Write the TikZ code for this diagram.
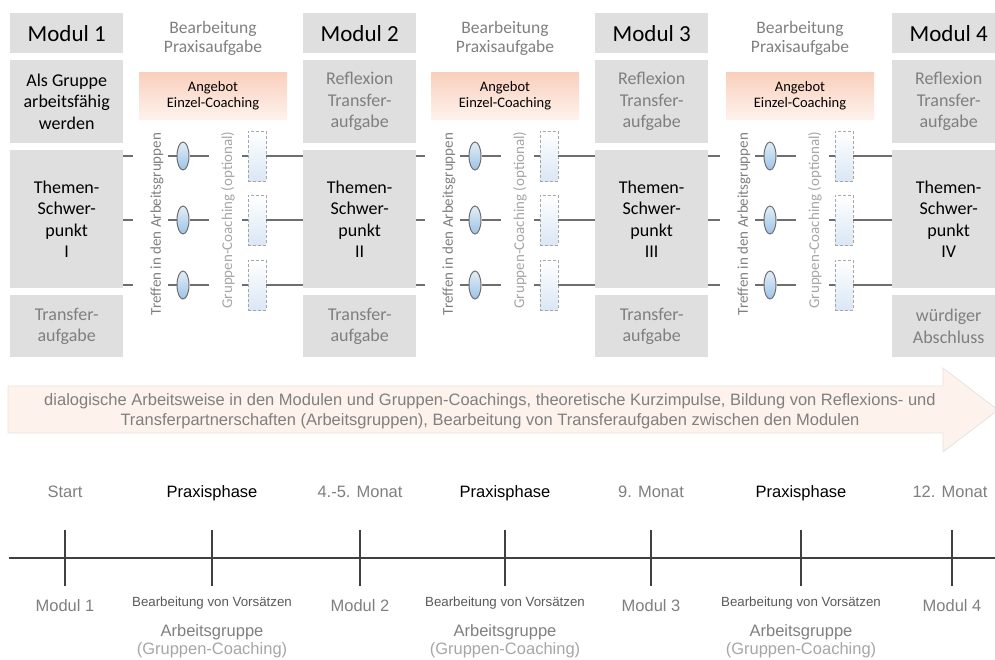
\documentclass[tikz,border=0pt]{standalone}
\usepackage{fontspec}
\setmainfont{Carlito}
\newfontfamily\arialfont{Liberation Sans}
\usetikzlibrary{shapes.geometric}
\definecolor{boxgray}{HTML}{DFDFDF}
\definecolor{txtgray}{HTML}{7F7F7F}
\definecolor{ltgray}{HTML}{A6A6A6}
\definecolor{dkgray}{HTML}{595959}
\definecolor{linegray}{HTML}{6E6E6E}
\definecolor{peachtop}{HTML}{F9CFBC}
\definecolor{peachbot}{HTML}{FEF2EC}
\definecolor{arrowfill}{HTML}{FDF2EC}
\definecolor{arrowline}{HTML}{EAE2DE}
\definecolor{blueelltop}{HTML}{E3EEF8}
\definecolor{blueell}{HTML}{9DC3E6}
\definecolor{bluebox}{HTML}{DAE7F5}
\tikzset{
  colbox/.style={fill=boxgray,minimum width=113,anchor=north west,inner sep=0,align=center,font={\fontsize{18}{21.5}\selectfont}},
  praxis/.style={text=txtgray,align=center,font={\fontsize{17.5}{19.5}\selectfont}},
  angebot/.style={top color=peachtop,bottom color=peachbot,minimum width=148,minimum height=47,inner sep=0,align=center,font={\fontsize{14.5}{16}\selectfont}},
  rottxt/.style={rotate=90,text=txtgray,inner sep=0,font={\fontsize{15}{17}\selectfont}},
  treffell/.style={ellipse,draw=linegray,line width=1,top color=blueelltop,bottom color=blueell,minimum width=12,minimum height=28,inner sep=0},
  gcbox/.style={draw=ltgray,dash pattern=on 3pt off 2pt,top color=white,bottom color=bluebox,minimum width=18,minimum height=50,inner sep=0},
  conn/.style={draw=linegray,line width=1.3},
  flowarrow/.style={fill=arrowfill,draw=arrowline,line width=0.8},
  flowtxt/.style={text=txtgray,align=center,font={\arialfont\fontsize{16.5}{20}\selectfont}},
  tline/.style={draw=black!75,line width=1.5},
  monlab/.style={text=txtgray,font={\arialfont\fontsize{16.5}{19}\selectfont}},
  phaselab/.style={text=black,font={\arialfont\fontsize{16.5}{19}\selectfont}},
  vorlab/.style={text=dkgray,font={\arialfont\fontsize{13.3}{15}\selectfont}},
  aglab/.style={text=txtgray,font={\arialfont\fontsize{16.5}{19}\selectfont}},
  gclab/.style={text=ltgray,font={\arialfont\fontsize{16.5}{19}\selectfont}}
}
\begin{document}
\begin{tikzpicture}[x=1pt,y=-1pt]
\useasboundingbox (0,0) rectangle (995,659);
\clip (0,0) rectangle (995,659);
%
% module columns
\foreach \n/\x/\rom/\tc/\txta/\txtb in {1/10/I/black/{Als Gruppe\\arbeitsfähig\\werden}/{Transfer-\\aufgabe},
  2/303/II/txtgray/{Reflexion\\Transfer-\\aufgabe}/{Transfer-\\aufgabe},
  3/595/III/txtgray/{Reflexion\\Transfer-\\aufgabe}/{Transfer-\\aufgabe},
  4/892/IV/txtgray/{Reflexion\\Transfer-\\aufgabe}/{würdiger\\Abschluss}}{
\node[colbox,minimum height=40,font={\fontsize{23}{25}\selectfont}] (head\n) at (\x,13) {Modul \n};
\node[colbox,minimum height=83,text=\tc] (ref\n) at (\x,60) {\txta};
\node[colbox,minimum height=138] (th\n) at (\x,150) {Themen-\\Schwer-\\punkt\\\rom};
\node[colbox,minimum height=62,text=txtgray] (tra\n) at (\x,295) {\txtb};
}
%
% practice phases between the modules
\foreach \g/\nx/\cx in {1/2/213,2/3/505,3/4/800}{
\node[praxis] (bp\g) at (\cx,38.5) {Bearbeitung\\Praxisaufgabe};
\node[angebot] (ang\g) at (\cx,95.5) {Angebot\\Einzel-Coaching};
\node[rottxt] (treff\g) at (\cx-56,224) {Treffen in den Arbeitsgruppen};
\node[rottxt,text=ltgray] (gcopt\g) at (\cx+15,220) {Gruppen-Coaching (optional)};
\foreach \r/\y in {1/156,2/220,3/285}{
  \coordinate (s\g\r) at (\cx-80,\y);
  \coordinate (a\g\r) at (\cx-45,\y);
  \coordinate (b\g\r) at (\cx-4,\y);
  \coordinate (d\g\r) at (\cx+29,\y);
  \node[treffell] (e\g\r) at (\cx-30,\y) {};
  \node[gcbox] (gc\g\r) at (\cx+44,\y) {};
  \draw[conn] (th\g.east |- s\g\r) -- (s\g\r);
  \draw[conn] (a\g\r) -- (e\g\r.west) (e\g\r.east) -- (b\g\r);
  \draw[conn] (d\g\r) -- (gc\g\r.west);
  \draw[conn] (gc\g\r.east) -- (gc\g\r.east -| th\nx.west);
}
}
%===========================
\draw[flowarrow] (8,386) -- (943,386) -- (943,368) -- (998,410) -- (943,452) -- (943,433) -- (8,433) -- cycle;
\node[flowtxt] (flow) at (490,411) {dialogische Arbeitsweise in den Modulen und Gruppen-Coachings, theoretische Kurzimpulse, Bildung von Reflexions- und\\Transferpartnerschaften (Arbeitsgruppen), Bearbeitung von Transferaufgaben zwischen den Modulen};
%===========================
\draw[tline] (9,558) -- (995,558);
\foreach \x in {65,212,360,505,651,801,952}{\draw[tline] (\x,530) -- (\x,586);}
\foreach \i/\x/\l in {1/65/Start,3/360/4.-5. Monat,5/651/9. Monat,7/950/12. Monat}{\node[monlab] (when\i) at (\x,492) {\l};}
\foreach \i/\x in {1/65,2/360,3/651,4/952}{\node[monlab] (tm\i) at (\x,606) {Modul \i};}
\foreach \i/\x in {2/212,4/505,6/801}{
\node[phaselab] (when\i) at (\x,493) {Praxisphase};
\node[vorlab] (vor\i) at (\x,603) {Bearbeitung von Vorsätzen};
\node[aglab] (ag\i) at (\x,632) {Arbeitsgruppe};
\node[gclab] (gcl\i) at (\x,650) {(Gruppen-Coaching)};
}
\end{tikzpicture}
\end{document}
